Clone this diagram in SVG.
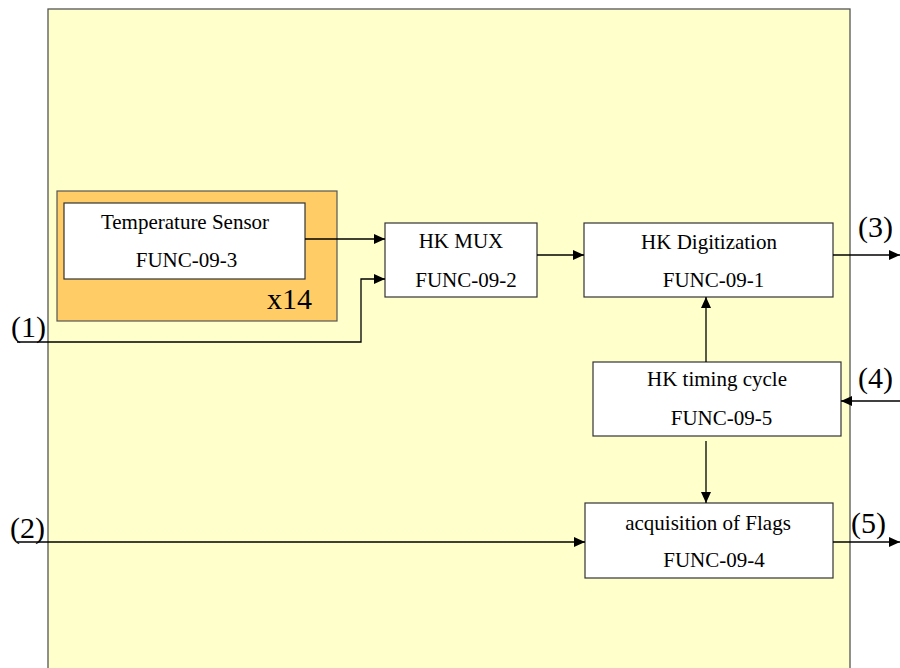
<svg xmlns="http://www.w3.org/2000/svg" width="900" height="668" viewBox="0 0 900 668">
<defs>
<marker id="arr" markerWidth="12" markerHeight="10" refX="11" refY="5" orient="auto" markerUnits="userSpaceOnUse">
<path d="M0,0 L11,5 L0,10 Z" fill="#000"/>
</marker>
</defs>
<style>
.box{fill:#fff;stroke:#333;stroke-width:1.2}
.t{font-family:"Liberation Serif","Times New Roman",serif;font-size:21px;fill:#000;text-anchor:middle}
.p{font-family:"Liberation Serif","Times New Roman",serif;font-size:30px;fill:#000}
.c{fill:none;stroke:#000;stroke-width:1.3}
</style>
<rect x="48" y="9" width="802" height="700" fill="#FFFFCC" stroke="#555" stroke-width="1.3"/>
<g id="sensor-group">
<rect x="57" y="191" width="280" height="130" fill="#FFCC66" stroke="#555" stroke-width="1.2"/>
<text class="p" x="267" y="309" style="font-size:30px">x14</text>
</g>
<g id="temp-sensor">
<rect class="box" x="64" y="203" width="241" height="76"/>
<text class="t" x="185" y="229">Temperature Sensor</text>
<text class="t" x="186.5" y="267">FUNC-09-3</text>
</g>
<g id="hk-mux">
<rect class="box" x="385" y="223" width="152" height="74"/>
<text class="t" x="461" y="248">HK MUX</text>
<text class="t" x="466" y="287">FUNC-09-2</text>
</g>
<g id="hk-digitization">
<rect class="box" x="584" y="223" width="249" height="74"/>
<text class="t" x="709" y="249">HK Digitization</text>
<text class="t" x="713.5" y="287">FUNC-09-1</text>
</g>
<g id="hk-timing">
<rect class="box" x="593" y="362" width="248" height="74"/>
<text class="t" x="717" y="386">HK timing cycle</text>
<text class="t" x="721.5" y="425">FUNC-09-5</text>
</g>
<g id="flags">
<rect class="box" x="585" y="503" width="248" height="75"/>
<text class="t" x="708" y="530">acquisition of Flags</text>
<text class="t" x="714" y="567">FUNC-09-4</text>
</g>
<g id="ports">
<text class="p" x="11" y="337">(1)</text>
<text class="p" x="10" y="538">(2)</text>
<text class="p" x="858" y="237">(3)</text>
<text class="p" x="858" y="388">(4)</text>
<text class="p" x="851" y="533">(5)</text>
</g>
<g id="connectors">
<path class="c" d="M305,239 H385" marker-end="url(#arr)"/>
<path class="c" d="M17,342 H361 V279 H385" marker-end="url(#arr)"/>
<path class="c" d="M537,255 H584" marker-end="url(#arr)"/>
<path class="c" d="M833,255 H900" marker-end="url(#arr)"/>
<path class="c" d="M900,401 H841" marker-end="url(#arr)"/>
<path class="c" d="M706,362 V297" marker-end="url(#arr)"/>
<path class="c" d="M706,441 V503" marker-end="url(#arr)"/>
<path class="c" d="M17,542 H585" marker-end="url(#arr)"/>
<path class="c" d="M833,542 H900" marker-end="url(#arr)"/>
</g>
</svg>
